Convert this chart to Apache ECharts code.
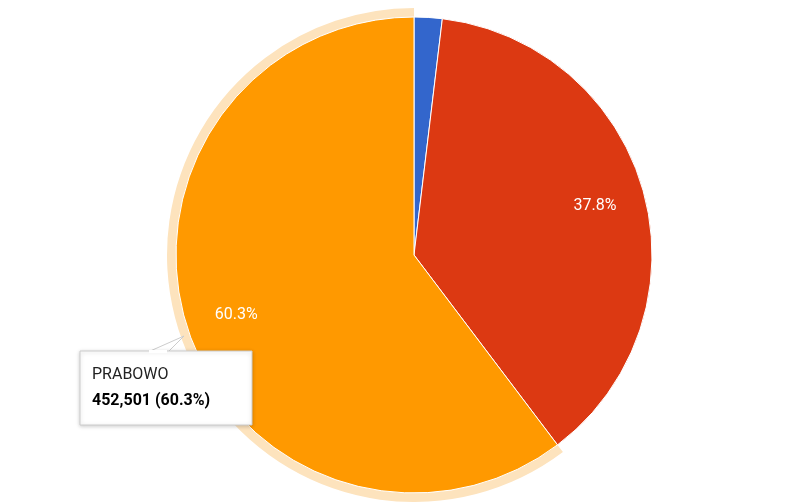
<!DOCTYPE html>
<html>
<head>
<meta charset="utf-8">
<script src="https://cdn.jsdelivr.net/npm/echarts@6/dist/echarts.min.js"></script>
<style>html,body{margin:0;padding:0;background:#fff}#chartBox{width:800px;height:502px}</style>
</head>
<body>
<div id="chartBox"></div>
<script>
// candidates, clockwise from the top
const names = ['LAINNYA', 'JOKOWI', 'PRABOWO'];
const votes = [14258, 283658, 452501];
const colors = ['#3366cc', '#dc3912', '#ff9900'];
const shownPct = ['1.9%', '37.8%', '60.3%'];

let myChart = echarts.init(document.getElementById('chartBox'));
const cx = 414, cy = 255, r = 238;
const base = names.map((n, i) => ({ name: n, value: votes[i] }));
const total = votes.reduce((a, b) => a + b, 0);
const sel = 2;

let option = {
	animation: false,
	series: [
		{ // highlight ring on the selected slice
			type: 'pie', silent: true, center: [cx, cy], radius: [r, r + 9],
			label: { show: false }, labelLine: { show: false },
			data: base.map((d, i) => ({ ...d, itemStyle: { color: i == sel ? '#fde3bd' : 'rgba(0,0,0,0)' } }))
		},
		{
			type: 'pie', silent: true, center: [cx, cy], radius: [0, r],
			color: colors,
			itemStyle: { borderColor: '#fff', borderWidth: 1 },
			label: { show: false }, labelLine: { show: false },
			data: base
		},
		{ // label carrier
			type: 'pie', silent: true, center: [cx, cy], radius: [r * 0.55, r],
			itemStyle: { color: 'rgba(0,0,0,0)' },
			label: {
				show: true, position: 'inside', color: '#fff', fontSize: 16, fontFamily: 'Roboto',
				formatter: p => p.dataIndex == 0 ? '' : shownPct[p.dataIndex]
			},
			labelLine: { show: false },
			data: base
		}
	],
	graphic: [
		{ type: 'polygon', shape: { points: [[148, 352], [184, 336], [168, 352]] },
			style: { fill: '#fff', stroke: '#ccc', lineWidth: 1 }, z: 10 },
		{ type: 'rect', shape: { x: 80, y: 351, width: 172, height: 74 },
			style: { fill: '#fff', stroke: '#ccc', lineWidth: 1, shadowBlur: 4, shadowColor: 'rgba(0,0,0,0.2)', shadowOffsetY: 1 }, z: 11 },
		{ type: 'rect', shape: { x: 149, y: 350, width: 18, height: 3 }, style: { fill: '#fff' }, z: 12 },
		{ type: 'text', x: 92, y: 367, z: 12,
			style: { text: names[sel], fill: '#222', fontSize: 16, fontFamily: 'Roboto' } },
		{ type: 'text', x: 92, y: 393, z: 12,
			style: { text: votes[sel].toLocaleString('en-US') + ' (' + shownPct[sel] + ')', fill: '#000', fontSize: 16, fontWeight: 'bold', fontFamily: 'Roboto' } }
	]
};
myChart.setOption(option, true);
</script>
</body>
</html>
